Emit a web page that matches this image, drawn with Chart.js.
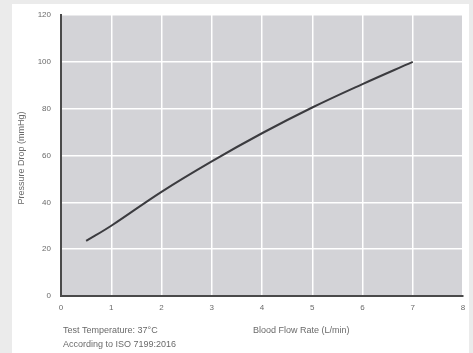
<!DOCTYPE html>
<html>
<head>
<meta charset="utf-8">
<script src="https://cdn.jsdelivr.net/npm/chart.js@4/dist/chart.umd.min.js"></script>
<style>
html,body{margin:0;padding:0;background:#ebebeb;}
#wrap{width:473px;height:353px;position:relative;}
canvas{display:block;}
</style>
</head>
<body>
<div id="wrap"><canvas id="c" width="473" height="353"></canvas></div>
<script>
// Data
const flowRate = [0.5, 1, 2, 3, 4, 5, 6, 7];          // L/min
const pressureDrop = [23.5, 30, 44.5, 57.5, 69.5, 80.5, 90.5, 100]; // mmHg
const xTicks = [0, 1, 2, 3, 4, 5, 6, 7, 8];
const yTicks = [0, 20, 40, 60, 80, 100, 120];
const yTitle = 'Pressure Drop (mmHg)';
const xTitle = 'Blood Flow Rate (L/min)';
const noteLines = ['Test Temperature: 37°C', 'According to ISO 7199:2016'];

const FONT = 'Liberation Sans, Arial, sans-serif';
const TXT = '#6a6a6a';

const bgPlugin = {
  id: 'bg',
  beforeDraw(chart) {
    const ctx = chart.ctx, a = chart.chartArea;
    ctx.save();
    ctx.fillStyle = '#ebebeb';
    ctx.fillRect(0, 0, chart.width, chart.height);
    ctx.fillStyle = '#ffffff';
    ctx.fillRect(12, 4, 457, chart.height - 4);
    ctx.fillStyle = '#d3d3d7';
    ctx.fillRect(a.left, a.top, a.right - a.left, a.bottom - a.top);
    ctx.restore();
  },
  afterDraw(chart) {
    const ctx = chart.ctx, a = chart.chartArea;
    ctx.save();
    ctx.fillStyle = TXT;
    ctx.font = '9px ' + FONT;
    ctx.textBaseline = 'middle';
    ctx.textAlign = 'left';
    ctx.fillText(noteLines[0], a.left + 2, 331);
    ctx.fillText(noteLines[1], a.left + 2, 345);
    ctx.fillText(xTitle, 253, 331);
    ctx.translate(22, 158);
    ctx.rotate(-Math.PI / 2);
    ctx.textAlign = 'center';
    ctx.fillText(yTitle, 0, 0);
    ctx.restore();
  }
};

new Chart(document.getElementById('c'), {
  type: 'line',
  data: {
    datasets: [{
      data: flowRate.map((x, i) => ({x: x, y: pressureDrop[i]})),
      borderColor: '#3b3b3f',
      borderWidth: 2,
      pointRadius: 0,
      tension: 0.4,
      fill: false
    }]
  },
  options: {
    responsive: false,
    animation: false,
    devicePixelRatio: 1,
    layout: {padding: {left: 0, right: 10, top: 15, bottom: 0}},
    plugins: {legend: {display: false}, tooltip: {enabled: false}},
    scales: {
      x: {
        type: 'linear',
        min: 0, max: 8,
        afterBuildTicks(s) { s.ticks = xTicks.map(v => ({value: v})); },
        afterFit(s) { s.height = 57; },
        grid: {color: '#ffffff', lineWidth: 1.5, tickLength: 4, tickColor: '#ffffff', drawOnChartArea: true},
        border: {color: '#4a4a4a', width: 2},
        ticks: {color: TXT, font: {size: 8, family: FONT}, padding: 3}
      },
      y: {
        min: 0, max: 120,
        afterBuildTicks(s) { s.ticks = yTicks.map(v => ({value: v})); },
        afterFit(s) { s.width = 61; },
        grid: {color: '#ffffff', lineWidth: 1.5, tickLength: 4, tickColor: '#ffffff'},
        border: {color: '#4a4a4a', width: 2},
        ticks: {color: TXT, font: {size: 8, family: FONT}, padding: 6}
      }
    }
  },
  plugins: [bgPlugin]
});
</script>
</body>
</html>
